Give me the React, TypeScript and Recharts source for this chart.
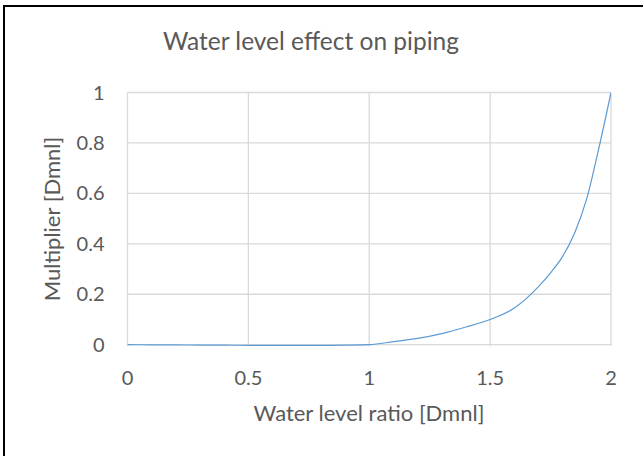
import React from "react";
import { LineChart, Line, XAxis, YAxis, CartesianGrid } from "recharts";

const chartTitle = "Water level effect on piping";
const xAxisTitle = "Water level ratio [Dmnl]";
const yAxisTitle = "Multiplier [Dmnl]";

const xValues = [0, 0.1, 0.2, 0.3, 0.4, 0.5, 0.6, 0.7, 0.8, 0.9, 1.0, 1.1, 1.2, 1.3, 1.4, 1.5, 1.6, 1.7, 1.75, 1.8, 1.85, 1.9, 1.95, 2.0];
const multiplier = [0, -0.0005, -0.001, -0.0015, -0.002, -0.0025, -0.003, -0.003, -0.003, -0.002, 0, 0.012, 0.025, 0.044, 0.07, 0.1, 0.145, 0.23, 0.285, 0.35, 0.444, 0.58, 0.78, 1.0];

const xTicks = [0, 0.5, 1, 1.5, 2];
const yTicks = [0, 0.2, 0.4, 0.6, 0.8, 1];

const data = xValues.map((x, i) => ({ x, y: multiplier[i] }));

const FONT = "Lato, 'Noto Sans', sans-serif";
const TEXT = "#595959";

export default function App() {
  return (
    <div style={{ position: "absolute", left: 0, top: 0, width: 643, height: 456, background: "#fff", overflow: "hidden", fontFamily: FONT }}>
      <div style={{ position: "absolute", left: 3, top: 5, width: 700, height: 500, borderTop: "2px solid #000", borderLeft: "2px solid #000" }} />
      <LineChart
        width={643}
        height={456}
        data={data}
        margin={{ top: 92.5, right: 32, bottom: 59.8, left: 67.5 }}
        style={{ position: "absolute", left: 0, top: 0 }}
      >
        <CartesianGrid stroke="#d9d9d9" strokeWidth={1.3} horizontalValues={yTicks} verticalValues={xTicks} />
        <XAxis
          dataKey="x"
          type="number"
          domain={[0, 2]}
          ticks={xTicks}
          height={50}
          tickSize={0}
          tickMargin={25}
          tickLine={false}
          axisLine={false}
          tick={{ fill: TEXT, fontSize: 20, fontFamily: FONT }}
          allowDataOverflow
        />
        <YAxis
          type="number"
          domain={[-0.006, 1]}
          ticks={yTicks}
          width={60}
          tickSize={0}
          tickMargin={23}
          tickLine={false}
          axisLine={false}
          tick={{ fill: TEXT, fontSize: 20, fontFamily: FONT }}
          allowDataOverflow
        />
        <Line
          type="monotone"
          dataKey="y"
          stroke="#5b9bd5"
          strokeWidth={1.2}
          dot={false}
          isAnimationActive={false}
        />
      </LineChart>
      <div style={{ position: "absolute", left: 311, top: 41, transform: "translate(-50%, -50%)", whiteSpace: "nowrap", color: TEXT, fontSize: 24.5, lineHeight: 1 }}>
        {chartTitle}
      </div>
      <div style={{ position: "absolute", left: 369, top: 413, transform: "translate(-50%, -50%)", whiteSpace: "nowrap", color: TEXT, fontSize: 22, lineHeight: 1 }}>
        {xAxisTitle}
      </div>
      <div style={{ position: "absolute", left: 52, top: 219, transform: "translate(-50%, -50%) rotate(-90deg)", whiteSpace: "nowrap", color: TEXT, fontSize: 22, lineHeight: 1 }}>
        {yAxisTitle}
      </div>
    </div>
  );
}
